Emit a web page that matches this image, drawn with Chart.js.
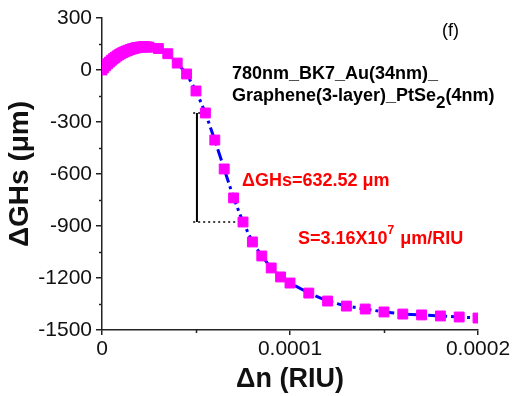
<!DOCTYPE html>
<html>
<head>
<meta charset="utf-8">
<script src="https://cdn.jsdelivr.net/npm/chart.js@4"></script>
<style>
  html, body { margin: 0; padding: 0; background: #fff; }
  #wrap { width: 513px; height: 396px; }
</style>
</head>
<body>
<div id="wrap"><canvas id="chart" width="513" height="396"></canvas></div>
<script>
// delta n in units of 1e-6 RIU (converted below)
const dnE6 = [0, 1, 2, 3, 4, 5, 6, 7, 8, 9, 10, 11, 12, 13, 14, 15, 16, 17, 18, 19, 20, 21, 22, 23, 24, 25,
  30, 35, 40, 45, 50, 55, 60, 65, 70, 75, 80, 85, 90, 95, 100,
  110, 120, 130, 140, 150, 160, 170, 180, 190, 200];
// delta GHs (um)
const dGHs = [0, 13, 25, 36, 46, 56, 65, 73, 81, 88, 94, 100, 105, 110, 114, 118, 122, 125, 128, 130, 132, 133, 134, 134, 133, 132,
  124, 94, 40, -23, -121, -248, -404, -571, -738, -877, -992, -1073, -1142, -1194, -1229,
  -1287, -1333, -1362, -1379, -1396, -1408, -1413, -1419, -1425, -1431];

// guide lines for the delta GHs read-out
const guideX = [50.5e-6, 50.5e-6];
const guideY = [-248, -877];
const dotTopX = [48.5e-6, 55e-6];
const dotBotX = [48.5e-6, 75e-6];

const yTicks = [-1500, -1200, -900, -600, -300, 0, 300];
const xTicks = [0, 0.0001, 0.0002];
const yMinor = [-1350, -1050, -750, -450, -150, 150];
const xMinor = [0.00005, 0.00015];

const FONT = "'Liberation Sans', Arial, sans-serif";
const AX = '#222';

const pts = dnE6.map((v, i) => ({ x: v / 1e6, y: dGHs[i] }));

// minor ticks + text labels
const extras = {
  id: 'extras',
  afterDraw(chart) {
    const ctx = chart.ctx;
    const xs = chart.scales.x, ys = chart.scales.y;
    const a = chart.chartArea;
    ctx.save();
    ctx.strokeStyle = AX;
    ctx.lineWidth = 1.5;
    yMinor.forEach(v => {
      const py = Math.round(ys.getPixelForValue(v)) + 0.5;
      ctx.beginPath(); ctx.moveTo(a.left - 3, py); ctx.lineTo(a.left, py); ctx.stroke();
    });
    xMinor.forEach(v => {
      const px = Math.round(xs.getPixelForValue(v)) + 0.5;
      ctx.beginPath(); ctx.moveTo(px, a.bottom); ctx.lineTo(px, a.bottom + 3); ctx.stroke();
    });

    ctx.textBaseline = 'alphabetic';
    ctx.textAlign = 'left';
    ctx.fillStyle = '#000';
    ctx.font = '18px ' + FONT;
    ctx.fillText('(f)', 442, 36);

    ctx.font = 'bold 18px ' + FONT;
    ctx.fillText('780nm_BK7_Au(34nm)_', 232, 79);
    let x = 232;
    let s = 'Graphene(3-layer)_PtSe';
    ctx.fillText(s, x, 101); x += ctx.measureText(s).width;
    ctx.font = 'bold 17px ' + FONT;
    ctx.fillText('2', x, 108); x += ctx.measureText('2').width;
    ctx.font = 'bold 18px ' + FONT;
    ctx.fillText('(4nm)', x, 101);

    ctx.fillStyle = '#ff0000';
    ctx.fillText('\u0394GHs=632.52 \u03bcm', 242, 186);
    x = 298;
    s = 'S=3.16X10';
    ctx.fillText(s, x, 244); x += ctx.measureText(s).width;
    ctx.font = 'bold 12px ' + FONT;
    ctx.fillText('7', x, 234); x += ctx.measureText('7').width;
    ctx.font = 'bold 18px ' + FONT;
    ctx.fillText(' \u03bcm/RIU', x + 1, 244);
    ctx.restore();
  }
};

new Chart(document.getElementById('chart').getContext('2d'), {
  type: 'scatter',
  data: {
    datasets: [
      {
        data: pts,
        showLine: true,
        borderColor: '#0000ff',
        borderWidth: 3,
        borderDash: [12, 4, 3, 4],
        pointStyle: 'rect',
        pointRadius: 7,
        pointBackgroundColor: '#ff00ff',
        pointBorderColor: '#ff00ff',
        pointBorderWidth: 1,
        order: 0
      },
      {
        data: guideX.map((v, i) => ({ x: v, y: guideY[i] })),
        showLine: true, borderColor: '#000', borderWidth: 2, pointRadius: 0, order: 1
      },
      {
        data: dotTopX.map(v => ({ x: v, y: guideY[0] })),
        showLine: true, borderColor: '#000', borderWidth: 1.5, borderDash: [2, 3], pointRadius: 0, order: 1
      },
      {
        data: dotBotX.map(v => ({ x: v, y: guideY[1] })),
        showLine: true, borderColor: '#000', borderWidth: 1.5, borderDash: [2, 3], pointRadius: 0, order: 1
      }
    ]
  },
  options: {
    responsive: false,
    animation: false,
    layout: { padding: { top: 18, right: 35, left: 0, bottom: 0 } },
    plugins: { legend: { display: false }, tooltip: { enabled: false } },
    scales: {
      x: {
        type: 'linear',
        min: 0,
        max: 0.0002,
        afterFit: (s) => { s.height = 66; },
        afterBuildTicks: (s) => { s.ticks = xTicks.map(v => ({ value: v })); },
        grid: { drawOnChartArea: false, drawTicks: true, tickLength: 5, color: AX, lineWidth: 1.5 },
        border: { display: true, color: AX, width: 1.5 },
        ticks: {
          color: '#111',
          padding: 2,
          font: { family: FONT, size: 21 },
          callback: (v) => (v === 0 ? '0' : v.toFixed(4))
        },
        title: {
          display: true,
          text: '\u0394n (RIU)',
          color: '#111',
          padding: { top: 0, bottom: 0 },
          font: { family: FONT, size: 27, weight: 'bold' }
        }
      },
      y: {
        type: 'linear',
        min: -1500,
        max: 300,
        afterFit: (s) => { s.width = 102; },
        afterBuildTicks: (s) => { s.ticks = yTicks.map(v => ({ value: v })); },
        grid: { drawOnChartArea: false, drawTicks: true, tickLength: 6, color: AX, lineWidth: 1.5 },
        border: { display: true, color: AX, width: 1.5 },
        ticks: {
          color: '#111',
          padding: 4,
          font: { family: FONT, size: 21 },
          callback: (v) => String(v)
        },
        title: {
          display: true,
          text: '\u0394GHs (\u03bcm)',
          color: '#111',
          padding: { top: 3, bottom: 0 },
          font: { family: FONT, size: 28, weight: 'bold' }
        }
      }
    }
  },
  plugins: [extras]
});
</script>
</body>
</html>
